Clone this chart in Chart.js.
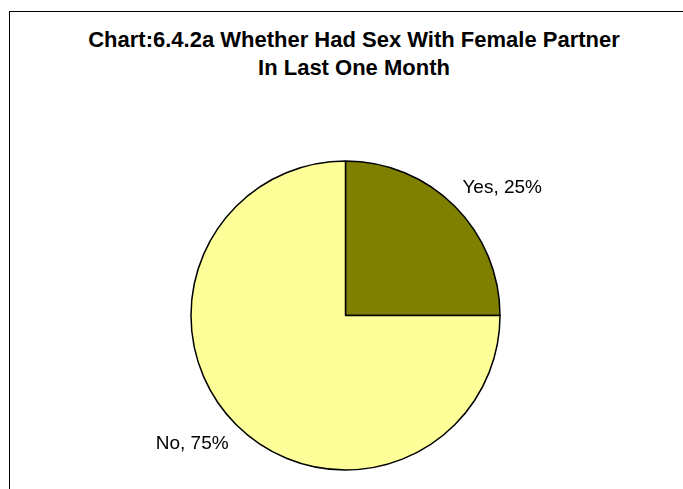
<!DOCTYPE html>
<html>
<head>
<meta charset="utf-8">
<title>Chart 6.4.2a</title>
<script src="https://cdn.jsdelivr.net/npm/chart.js@4"></script>
<style>
    body {
        margin: 0;
        width: 683px;
        height: 489px;
        overflow: hidden;
        background: #fff;
        position: relative;
        font-family: "Liberation Sans", Arial, sans-serif;
    }
    .frame {
        position: absolute;
        left: 9px;
        top: 11px;
        width: 700px;
        height: 500px;
        border: 1px solid #000;
    }
    .chart-title {
        position: absolute;
        left: 0;
        top: 26px;
        width: 708px;
        text-align: center;
        font-weight: bold;
        font-size: 22px;
        line-height: 27.5px;
        color: #000;
    }
    #sexChart {
        position: absolute;
        left: 0;
        top: 0;
    }
</style>
</head>
<body>
<div class="frame"></div>
<div class="chart-title">Chart:6.4.2a Whether Had Sex With Female Partner<br>In Last One Month</div>
<canvas id="sexChart" width="683" height="489"></canvas>

<script>
// Answers and their share in percent
const answers = ['Yes', 'No'];
const shares = [25, 75];
const sliceColors = ['#808000', '#FFFF99'];

// Draws "Label, value%" just outside each slice, Excel style
const outsideLabels = {
    id: 'outsideLabels',
    afterDatasetsDraw(chart) {
        const ctx = chart.ctx;
        const meta = chart.getDatasetMeta(0);
        ctx.save();
        ctx.font = '19px "Liberation Sans", Arial, sans-serif';
        ctx.fillStyle = '#000';
        ctx.textBaseline = 'alphabetic';
        meta.data.forEach((arc, i) => {
            const mid = (arc.startAngle + arc.endAngle) / 2;
            const r = arc.outerRadius * 1.07;
            const px = arc.x + Math.cos(mid) * r;
            const py = arc.y + Math.sin(mid) * r;
            ctx.textAlign = Math.cos(mid) >= 0 ? 'left' : 'right';
            const y = Math.sin(mid) < 0 ? py - 6 : py + 17;
            ctx.fillText(answers[i] + ', ' + shares[i] + '%', px, y);
        });
        ctx.restore();
    }
};

const initSexChart = () => {
    const ctx = document.getElementById('sexChart').getContext('2d');
    return new Chart(ctx, {
        type: 'pie',
        data: {
            labels: answers,
            datasets: [{
                data: shares,
                backgroundColor: sliceColors,
                borderColor: '#000',
                borderWidth: 1.5
            }]
        },
        options: {
            responsive: false,
            animation: false,
            radius: 154.5,
            layout: {
                padding: { left: 191, right: 183, top: 161, bottom: 19 }
            },
            plugins: {
                legend: { display: false },
                title: { display: false },
                tooltip: { enabled: false }
            }
        },
        plugins: [outsideLabels]
    });
};

document.addEventListener('DOMContentLoaded', () => {
    initSexChart();
});
</script>
</body>
</html>
